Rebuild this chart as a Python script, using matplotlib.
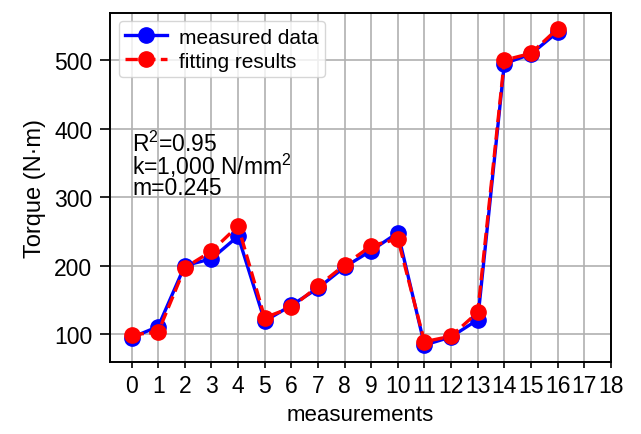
import matplotlib
matplotlib.use("Agg")
import matplotlib.pyplot as plt
import numpy as np

# torque per measurement
measurements = list(range(17))
measured_data = [95, 111, 200, 210, 243, 119, 142, 167, 198, 222, 248, 84, 96, 121, 495, 509, 541]
fitting_results = [99, 103, 197, 221, 258, 124, 139, 170, 201, 229, 239, 89, 97, 132, 500, 510, 546]
x_ticks = list(range(19))
y_ticks = [100, 200, 300, 400, 500]
fit_lines = ["R$^2$=0.95", "k=1,000 N/mm$^2$", "m=0.245"]

plt.rcParams["font.family"] = ["Liberation Sans", "DejaVu Sans"]
plt.rcParams["mathtext.fontset"] = "custom"
plt.rcParams["mathtext.rm"] = "Liberation Sans"

fig, ax = plt.subplots(figsize=(6.41, 4.35), dpi=100)
fig.subplots_adjust(left=0.172, right=0.953, top=0.968, bottom=0.165)

ax.plot(measurements, measured_data, color="blue", linestyle="-", linewidth=2.4,
        marker="o", markersize=11, label="measured data")
ax.plot(measurements, fitting_results, color="red", linestyle="--", linewidth=2.4,
        marker="o", markersize=11, label="fitting results")

ax.set_xlim(-0.8, 18)
ax.set_ylim(59, 569)
ax.set_xticks(x_ticks)
ax.set_yticks(y_ticks)
ax.tick_params(axis="x", labelsize=16.5, width=1.2, length=4.5, pad=4)
ax.tick_params(axis="y", labelsize=16.5, width=1.2, length=7, pad=6)
ax.grid(True, color="#b0b0b0", linewidth=1.2)
ax.set_axisbelow(True)
for spine in ax.spines.values():
    spine.set_linewidth(1.4)

ax.set_xlabel("measurements", fontsize=16, labelpad=5)
ax.set_ylabel("Torque (N·m)", fontsize=17, labelpad=6)

# fit parameters, one line each
for line, y in zip(fit_lines, [0.604, 0.540, 0.481]):
    ax.text(0.044, y, line, transform=ax.transAxes, fontsize=16.5,
            va="baseline", ha="left")

ax.legend(loc="upper left", fontsize=15, labelspacing=0.25, borderpad=0.3,
          handletextpad=0.6, borderaxespad=0.4)

plt.savefig("out.png", dpi=100)
